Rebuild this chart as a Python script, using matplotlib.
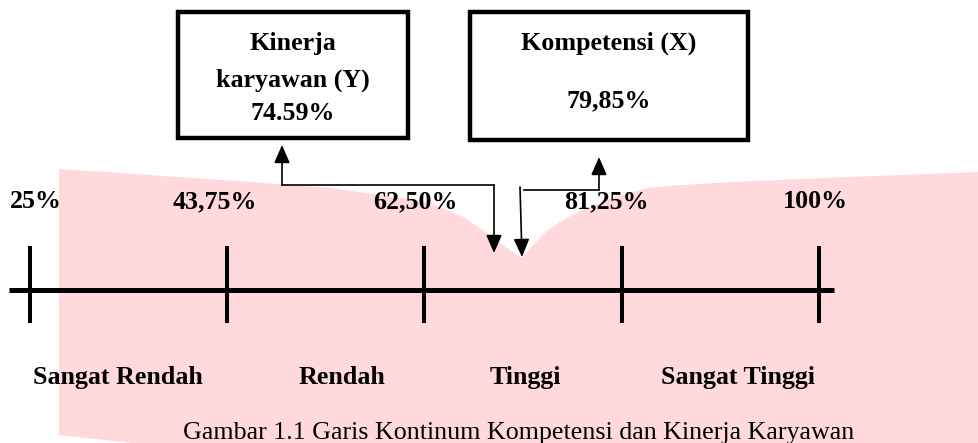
import matplotlib
matplotlib.use('Agg')
import matplotlib.pyplot as plt
from matplotlib.patches import Polygon, Rectangle

# data
scale_vals = [25, 43.75, 62.5, 81.25, 100]
scale_labels = ['25%', '43,75%', '62,50%', '81,25%', '100%']
categories = ['Sangat Rendah', 'Rendah', 'Tinggi', 'Sangat Tinggi']
box_y = ['Kinerja', 'karyawan (Y)', '74.59%']
box_x = ['Kompetensi (X)', '79,85%']
caption = 'Gambar 1.1 Garis Kontinum Kompetensi dan Kinerja Karyawan'

W, H = 979, 443
serif = ['Liberation Serif', 'DejaVu Serif']
fs = 18.7

fig = plt.figure(figsize=(W / 100, H / 100), dpi=100)

# background / decoration axes in pixel units
bg = fig.add_axes([0, 0, 1, 1])
bg.set_xlim(0, W)
bg.set_ylim(H, 0)
bg.axis('off')

# pink watermark (open book shape)
pink = [(59, 169), (150, 175), (250, 182), (330, 188), (380, 195), (430, 203),
        (463, 217), (487, 233), (510, 250), (522, 258),
        (535, 243), (548, 230), (565, 219), (582, 210), (600, 203), (615, 197),
        (648, 188), (682, 185), (715, 183), (800, 179), (900, 175), (979, 172),
        (979, 443), (133, 443), (59, 435)]
bg.add_patch(Polygon(pink, closed=True, facecolor='#ffd9db', edgecolor='none', zorder=0))

# boxes
bg.add_patch(Rectangle((178, 12), 230, 126, fill=False, lw=3.2, ec='black', zorder=3))
bg.add_patch(Rectangle((470, 12), 278, 128, fill=False, lw=3.2, ec='black', zorder=3))
for txt, yb in zip(box_y, [50, 87, 120]):
    bg.text(293, yb, txt, ha='center', va='baseline', fontsize=fs, fontweight='bold', family=serif)
for txt, yb in zip(box_x, [50, 107]):
    bg.text(609, yb, txt, ha='center', va='baseline', fontsize=fs, fontweight='bold', family=serif)

# connector arrows
aprops = dict(arrowstyle='-|>,head_length=0.55,head_width=0.24', mutation_scale=20,
              lw=1.2, color='black', shrinkA=0, shrinkB=0)
bg.plot([282, 494], [185, 185], color='black', lw=1.2)
bg.annotate('', xy=(282, 145), xytext=(282, 185), arrowprops=aprops)
bg.annotate('', xy=(494, 253), xytext=(494, 185), arrowprops=aprops)
bg.plot([524, 599], [190, 190], color='black', lw=1.2)
bg.annotate('', xy=(599, 157), xytext=(599, 190), arrowprops=aprops)
bg.annotate('', xy=(522, 257), xytext=(520, 187), arrowprops=aprops)

bg.text(519, 439, caption, ha='center', va='baseline', fontsize=fs, family=serif)

# continuum scale axes: x in percent, y in pixels
ax = fig.add_axes([0, 0, 1, 1])
ax.patch.set_alpha(0)
ax.set_xlim(22.17, 115.2)
ax.set_ylim(H, 0)
ax.axis('off')

ax.plot([scale_vals[0] - 2.0, scale_vals[-1] + 1.4], [290, 290], color='black', lw=3.6,
        solid_capstyle='butt')
ax.vlines(scale_vals, 246, 323, color='black', lw=2.9)

label_off = [6, -12, -9, -15, -4]
for v, lab, off in zip(scale_vals, scale_labels, label_off):
    ax.annotate(lab, xy=(v, 208), xytext=(off, 0), textcoords='offset pixels',
                ha='center', va='baseline', fontsize=fs, fontweight='bold', family=serif)

mids = [(a + b) / 2 for a, b in zip(scale_vals[:-1], scale_vals[1:])]
cat_off = [-11, 16, 2, 18]
for m, lab, off in zip(mids, categories, cat_off):
    ax.annotate(lab, xy=(m, 384), xytext=(off, 0), textcoords='offset pixels',
                ha='center', va='baseline', fontsize=fs, fontweight='bold', family=serif)

fig.savefig('out.png', dpi=100)
